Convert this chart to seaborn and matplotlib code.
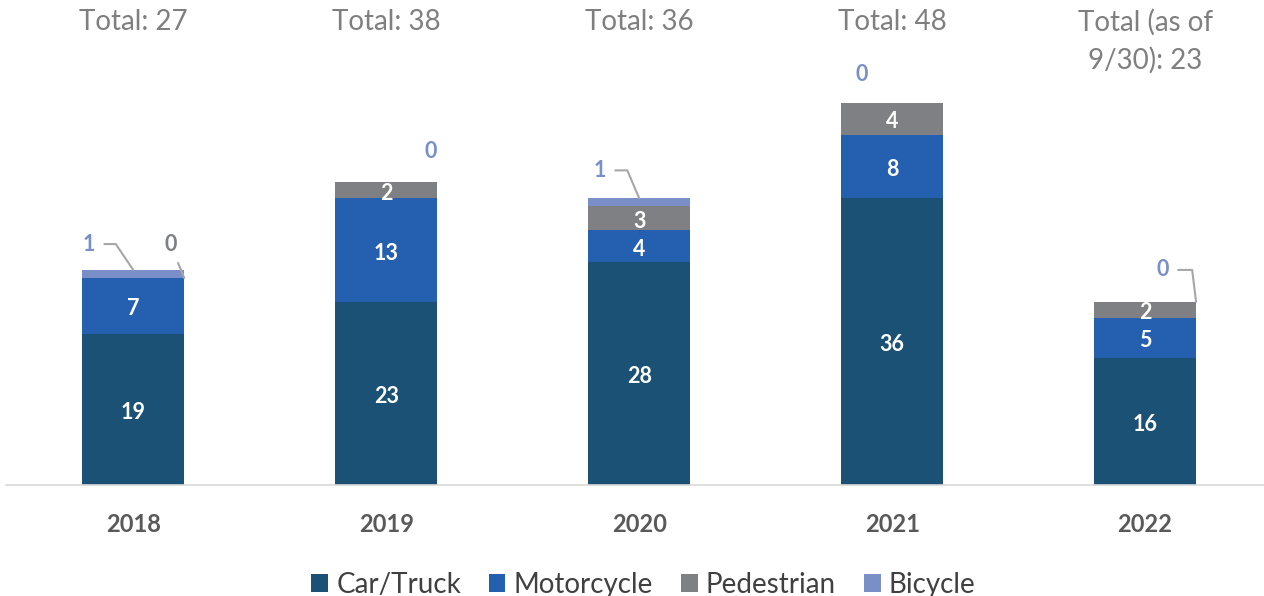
import numpy as np
import pandas as pd
import matplotlib
matplotlib.use("Agg")
import matplotlib.pyplot as plt
import matplotlib.transforms as mtransforms
import seaborn as sns

# valores
years = ["2018", "2019", "2020", "2021", "2022"]
car_truck = [19, 23, 28, 36, 16]
motorcycle = [7, 13, 4, 8, 5]
pedestrian = [0, 2, 3, 4, 2]
bicycle = [1, 0, 1, 0, 0]
total_labels = ["Total: 27", "Total: 38", "Total: 36", "Total: 48", "Total (as of\n9/30): 23"]

series_names = ["Car/Truck", "Motorcycle", "Pedestrian", "Bicycle"]
colors = ["#1B5174", "#255FAF", "#7F8083", "#7A8FC8"]

sns.set_theme(style="white")
plt.rcParams["font.family"] = ["Lato", "DejaVu Sans"]

df = pd.DataFrame({"year": years, "Car/Truck": car_truck, "Motorcycle": motorcycle,
                   "Pedestrian": pedestrian, "Bicycle": bicycle})
cum = df[series_names].cumsum(axis=1)

fig = plt.figure(figsize=(12.64, 5.96), dpi=100)
ax = fig.add_axes([0.005, 0.186, 0.995, 0.814])

bar_w = 0.403
# apilado: se dibujan primero las sumas acumuladas mas altas
for name, col in reversed(list(zip(series_names, colors))):
    sns.barplot(x=df["year"], y=cum[name], color=col, saturation=1, width=bar_w,
                label=name, ax=ax, linewidth=0)
handles, labels = ax.get_legend_handles_labels()
if ax.get_legend() is not None:
    ax.get_legend().remove()

ax.set_xlim(-0.502, 4.47)
ax.set_ylim(0, 60.9)
ax.set_xlabel("")
ax.set_ylabel("")
ax.set_yticks([])
for s in ["left", "right", "top"]:
    ax.spines[s].set_visible(False)
ax.spines["bottom"].set_color("#D9D9D9")
ax.spines["bottom"].set_linewidth(1.2)
ax.tick_params(axis="x", length=0, pad=20, labelsize=17, labelcolor="#595959")
for t in ax.get_xticklabels():
    t.set_fontweight("bold")

# etiquetas dentro de las barras
in_trans = mtransforms.offset_copy(ax.transData, fig=fig, x=0, y=-3, units="dots")
bottoms = np.zeros(len(years))
for name in series_names[:3]:
    vals = np.array(df[name])
    for i, v in enumerate(vals):
        if v > 0:
            ax.text(i, bottoms[i] + v / 2, str(v), ha="center", va="center",
                    transform=in_trans, color="white", fontsize=15.5, fontweight="bold")
    bottoms += vals

# etiquetas externas con linea guia
tops = cum["Bicycle"].to_numpy()
ped_tops = cum["Pedestrian"].to_numpy()
half = bar_w / 2
callouts = [
    # (x, y ancla, texto, color, offset px, estilo conexion)
    (0, tops[0], str(bicycle[0]), colors[3], (-44, 26), "angle,angleA=0,angleB=124,rad=0"),
    (0 + half, ped_tops[0], str(pedestrian[0]), colors[2], (-14, 34), "arc3"),
    (1, tops[1], str(bicycle[1]), colors[3], (44, 31), None),
    (2, tops[2], str(bicycle[2]), colors[3], (-39, 28), "angle,angleA=0,angleB=113,rad=0"),
    (3, tops[3], str(bicycle[3]), colors[3], (-30, 28), None),
    (4 + half, tops[4], str(bicycle[4]), colors[3], (-33, 32), "angle,angleA=0,angleB=97,rad=0"),
]
for x, y, txt, col, off, conn in callouts:
    props = None
    if conn is not None:
        props = dict(arrowstyle="-", color="#A6A6A6", lw=1.5, connectionstyle=conn,
                     shrinkA=4, shrinkB=0)
    ax.annotate(txt, xy=(x, y), xytext=off, textcoords="offset pixels",
                ha="center", va="center", color=col, fontsize=15.5, fontweight="bold",
                arrowprops=props)

# totales arriba
tot_trans = mtransforms.offset_copy(ax.get_xaxis_transform(), fig=fig, x=0, y=-9, units="dots")
for i, lab in enumerate(total_labels):
    ax.text(i, 1.0, lab, transform=tot_trans, ha="center", va="top",
            fontsize=20, color="#7F7F7F", linespacing=1.5)

order = [labels.index(n) for n in series_names]
fig.legend([handles[k] for k in order], series_names, loc="lower center",
           bbox_to_anchor=(0.509, -0.045), ncol=4, frameon=False, fontsize=20,
           handlelength=0.6, handleheight=0.6, handletextpad=0.3, columnspacing=1.0,
           labelcolor="#404040")

fig.savefig("out.png", dpi=100)
